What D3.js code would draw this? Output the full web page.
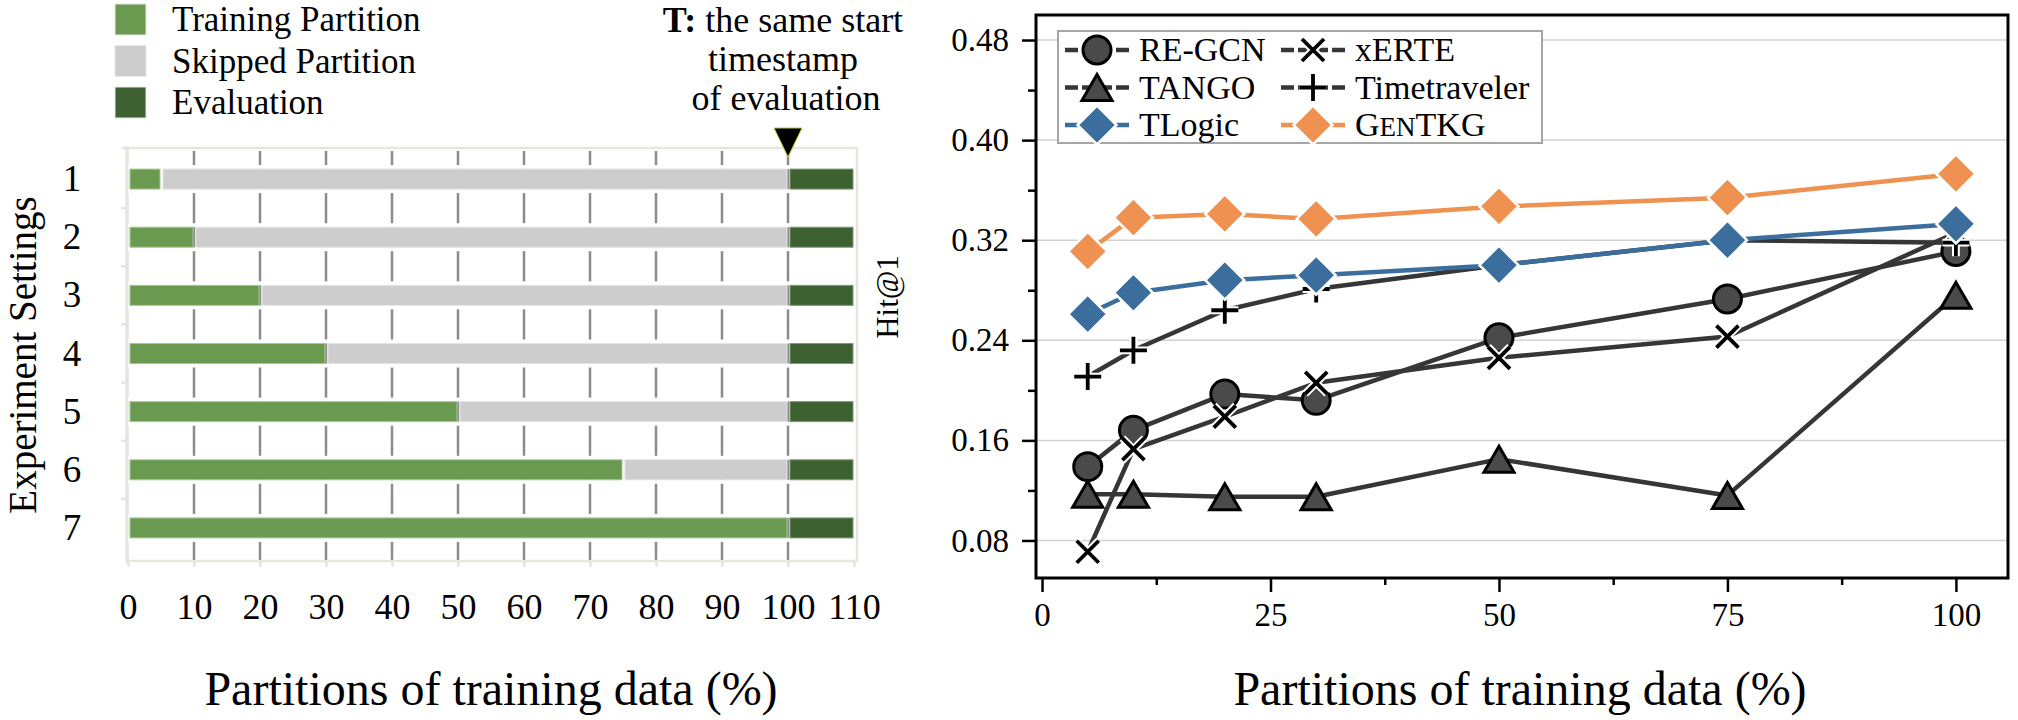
<!DOCTYPE html>
<html>
<head>
<meta charset="utf-8">
<script src="https://cdn.jsdelivr.net/npm/d3@7"></script>
<style>
  body { margin: 0; background: #fff; }
  svg, svg text { font-family: "Liberation Serif", "Times New Roman", serif; }
</style>
</head>
<body>
<div id="vis"></div>
<script>
// ── Left panel data: experiment settings ─────────────────────────────────────
var settings       = ['1', '2', '3', '4', '5', '6', '7'];
var trainEnd       = [5, 10, 20, 30, 50, 75, 100];   // % of training data used
var evalStart      = 100;
var evalEnd        = 110;
var partitionTicks = [0, 10, 20, 30, 40, 50, 60, 70, 80, 90, 100, 110];
var partLegend     = ['Training Partition', 'Skipped Partition', 'Evaluation'];

// ── Right panel data: Hit@1 vs partition size ────────────────────────────────
var partitions   = [5, 10, 20, 30, 50, 75, 100];
var reGcn        = [0.139, 0.168, 0.197, 0.192, 0.242, 0.273, 0.311];
var tango        = [0.117, 0.117, 0.115, 0.115, 0.145, 0.116, 0.276];
var xerte        = [0.071, 0.153, 0.179, 0.206, 0.226, 0.243, 0.326];
var timetraveler = [0.211, 0.232, 0.264, 0.281, 0.300, 0.320, 0.318];
var tlogic       = [0.261, 0.278, 0.288, 0.292, 0.300, 0.320, 0.333];
var genTkg       = [0.311, 0.338, 0.341, 0.337, 0.347, 0.354, 0.373];
var yTicks       = [0.08, 0.16, 0.24, 0.32, 0.40, 0.48];
var yMinorTicks  = [0.12, 0.20, 0.28, 0.36, 0.44];
var xTicks       = [0, 25, 50, 75, 100];
var xMinorTicks  = [12.5, 37.5, 62.5, 87.5];

var W = 2018, H = 720;
var green = '#6a9a4f', grey = '#cdcdcd', darkGreen = '#3d6131';
var pale = '#e6e6df', dark = '#363636';
var blue = '#3b6e9c', orange = '#ef9150';

var svg = d3.select('#vis').append('svg').attr('width', W).attr('height', H);

// marker shapes centred on 0,0
function markerPath(type, s) {
  if (type === 'circle')   return `M${s},0A${s},${s} 0 1,1 ${-s},0A${s},${s} 0 1,1 ${s},0Z`;
  if (type === 'triangle') return `M0,${-s}L${s * 1.16},${s}L${-s * 1.16},${s}Z`;
  if (type === 'diamond')  return `M0,${-s}L${s},0L0,${s}L${-s},0Z`;
  if (type === 'x')        return `M${-s},${-s}L${s},${s}M${-s},${s}L${s},${-s}`;
  return `M${-s},0L${s},0M0,${-s}L0,${s}`; // plus
}

// d3 axes put font-family="sans-serif" on their group; drop it so the serif face inherits
function clearAxisFont(g, fs) {
  g.attr('font-family', null).attr('font-size', null);
  g.selectAll('.tick text').attr('font-size', fs).attr('fill', '#000');
}

// ═════════════════════════ LEFT PANEL ═════════════════════════════════════
var xL = d3.scaleLinear().domain([0, 110]).range([128, 854]);
var yL = d3.scaleBand().domain(settings).range([150, 557]);
var left = svg.append('g');
var barH = 20;

// frame (light)
left.append('path')
  .attr('d', `M122,148H857V561H127V148`)
  .attr('fill', 'none').attr('stroke', pale).attr('stroke-width', 2.5);
left.append('line').attr('x1', 127).attr('x2', 127).attr('y1', 146).attr('y2', 563)
  .attr('stroke', pale).attr('stroke-width', 3.5);

// vertical grid
left.append('g').selectAll('line')
  .data(partitionTicks.filter(d => d > 0 && d < 110))
  .join('line')
  .attr('x1', d => xL(d)).attr('x2', d => xL(d))
  .attr('y1', 151).attr('y2', 560)
  .attr('stroke', '#8c8c8c').attr('stroke-width', 2.5);

// bars
var rows = settings.map((s, i) => {
  var segs = [{ s: 0, e: trainEnd[i], c: green, o: '#a9c99a' }];
  if (trainEnd[i] < evalStart) segs.push({ s: trainEnd[i], e: evalStart, c: grey, o: '#e4e4e4' });
  segs.push({ s: evalStart, e: evalEnd, c: darkGreen, o: '#7e9a74' });
  return { setting: s, segs: segs };
});

var rowG = left.append('g').selectAll('g').data(rows).join('g')
  .attr('transform', d => `translate(0,${yL(d.setting) + yL.bandwidth() / 2})`);

// white gaps above and below each bar cut the grid lines
rowG.append('rect').attr('x', xL(0)).attr('width', xL(evalEnd) - xL(0))
  .attr('y', -barH / 2 - 4).attr('height', 4).attr('fill', '#fff');
rowG.append('rect').attr('x', xL(0)).attr('width', xL(evalEnd) - xL(0))
  .attr('y', barH / 2).attr('height', 4).attr('fill', '#fff');

rowG.selectAll('rect.seg').data(d => d.segs).join('rect').attr('class', 'seg')
  .attr('x', d => xL(d.s) + 2)
  .attr('width', d => xL(d.e) - xL(d.s) - 3)
  .attr('y', -barH / 2).attr('height', barH)
  .attr('fill', d => d.c).attr('stroke', d => d.o).attr('stroke-width', 1);

// x axis
var xAxisL = left.append('g').attr('transform', 'translate(0,561)')
  .call(d3.axisBottom(xL).tickValues(partitionTicks).tickSize(6))
  .call(g => clearAxisFont(g, 36));
xAxisL.select('.domain').remove();
xAxisL.selectAll('.tick line').attr('stroke', pale).attr('stroke-width', 2.5);
xAxisL.selectAll('.tick text').attr('y', 58).attr('dy', null);

// y ticks between rows + row labels
left.append('g').selectAll('line').data(settings.slice(1)).join('line')
  .attr('x1', 121).attr('x2', 127)
  .attr('y1', d => yL(d)).attr('y2', d => yL(d))
  .attr('stroke', pale).attr('stroke-width', 2.5);
left.append('g').selectAll('text').data(settings).join('text')
  .attr('x', 72).attr('y', d => yL(d) + yL.bandwidth() / 2 + 12)
  .attr('text-anchor', 'middle').attr('font-size', 37).text(d => d);

left.append('text')
  .attr('transform', 'translate(36,355) rotate(-90)')
  .attr('text-anchor', 'middle').attr('font-size', 39)
  .text('Experiment Settings');

left.append('text').attr('x', 491).attr('y', 705)
  .attr('text-anchor', 'middle').attr('font-size', 48)
  .text('Partitions of training data (%)');

// legend
var legL = left.append('g').selectAll('g').data(partLegend).join('g')
  .attr('transform', (d, i) => `translate(115,${4 + i * 41.5})`);
legL.append('rect').attr('width', 31).attr('height', 31)
  .attr('fill', (d, i) => [green, grey, darkGreen][i])
  .attr('stroke', '#e8e8e8').attr('stroke-width', 1);
legL.append('text').attr('x', 57).attr('y', 27).attr('font-size', 35).text(d => d);

// annotation at T
var ann = left.append('text').attr('text-anchor', 'middle').attr('font-size', 36);
ann.append('tspan').attr('x', 783).attr('y', 32).attr('font-weight', 'bold').text('T:');
ann.append('tspan').text(' the same start');
ann.append('tspan').attr('x', 783).attr('y', 71).text('timestamp');
ann.append('tspan').attr('x', 786).attr('y', 110).text('of evaluation');

left.append('path')
  .attr('d', `M${xL(evalStart) - 14},128H${xL(evalStart) + 14}L${xL(evalStart)},157Z`)
  .attr('fill', '#000').attr('stroke', '#c8c832').attr('stroke-width', 1);

// ═════════════════════════ RIGHT PANEL ════════════════════════════════════
var xR = d3.scaleLinear().domain([-0.66, 105.7]).range([1036, 2008]);
var yR = d3.scaleLinear().domain([0.05, 0.50]).range([578, 15]);
var right = svg.append('g');

// horizontal grid
right.append('g').selectAll('line').data(yTicks).join('line')
  .attr('x1', 1036).attr('x2', 2008)
  .attr('y1', d => yR(d)).attr('y2', d => yR(d))
  .attr('stroke', '#d2d2d2').attr('stroke-width', 1.5);

function styleAxis(g, fs) {
  g.select('.domain').remove();
  g.selectAll('.tick line').attr('stroke', '#000').attr('stroke-width', 2.5);
  clearAxisFont(g, fs);
}

right.append('g').attr('transform', 'translate(1036,0)')
  .call(d3.axisLeft(yR).tickValues(yTicks).tickFormat(d3.format('.2f')).tickSize(14).tickPadding(13))
  .call(g => styleAxis(g, 33));
right.append('g').attr('transform', 'translate(1036,0)')
  .call(d3.axisLeft(yR).tickValues(yMinorTicks).tickFormat('').tickSize(8))
  .call(g => styleAxis(g, 33));
right.append('g').attr('transform', 'translate(0,578)')
  .call(d3.axisBottom(xR).tickValues(xTicks).tickSize(14).tickPadding(11))
  .call(g => styleAxis(g, 33));
right.append('g').attr('transform', 'translate(0,578)')
  .call(d3.axisBottom(xR).tickValues(xMinorTicks).tickFormat('').tickSize(7))
  .call(g => styleAxis(g, 33));

right.append('rect').attr('x', 1036).attr('y', 15).attr('width', 972).attr('height', 563)
  .attr('fill', 'none').attr('stroke', '#000').attr('stroke-width', 3);

right.append('text')
  .attr('transform', 'translate(898,297) rotate(-90)')
  .attr('text-anchor', 'middle').attr('font-size', 31).text('Hit@1');
right.append('text').attr('x', 1520).attr('y', 705)
  .attr('text-anchor', 'middle').attr('font-size', 48)
  .text('Partitions of training data (%)');

// series, in drawing order
var series = [
  { name: 'RE-GCN',       values: reGcn,        line: dark,   marker: 'circle',   size: 14,   fill: '#4a4a4a', edge: '#000', ew: 3 },
  { name: 'TANGO',        values: tango,        line: dark,   marker: 'triangle', size: 13,   fill: '#4a4a4a', edge: '#000', ew: 3 },
  { name: 'xERTE',        values: xerte,        line: dark,   marker: 'x',        size: 11,   fill: 'none',    edge: '#000', ew: 3.8, halo: true },
  { name: 'Timetraveler', values: timetraveler, line: dark,   marker: 'plus',     size: 13.5, fill: 'none',    edge: '#000', ew: 3.8, halo: true },
  { name: 'TLogic',       values: tlogic,       line: blue,   marker: 'diamond',  size: 19.5, fill: blue,      edge: '#fff', ew: 2.5 },
  { name: 'GenTKG',       values: genTkg,       line: orange, marker: 'diamond',  size: 19.5, fill: orange,    edge: '#fff', ew: 2.5 }
];

var line = d3.line().x(d => xR(d.x)).y(d => yR(d.y));

function drawMarker(g, s) {
  if (s.halo) {
    g.append('path').attr('d', markerPath(s.marker, s.size))
      .attr('fill', 'none').attr('stroke', '#fff').attr('stroke-width', s.ew + 4);
  }
  g.append('path').attr('d', markerPath(s.marker, s.size))
    .attr('fill', s.fill).attr('stroke', s.edge).attr('stroke-width', s.ew)
    .attr('stroke-linejoin', 'miter');
}

series.forEach(s => {
  var pts = partitions.map((p, i) => ({ x: p, y: s.values[i] }));
  var g = right.append('g');
  g.append('path').datum(pts).attr('d', line)
    .attr('fill', 'none').attr('stroke', s.line).attr('stroke-width', 4.5)
    .attr('stroke-linejoin', 'round');
  g.selectAll('g.m').data(pts).join('g').attr('class', 'm')
    .attr('transform', d => `translate(${xR(d.x)},${yR(d.y)})`)
    .each(function () { drawMarker(d3.select(this), s); });
});

// legend (two columns)
var legendOrder = ['RE-GCN', 'TANGO', 'TLogic', 'xERTE', 'Timetraveler', 'GenTKG'];
var legR = right.append('g');
legR.append('rect').attr('x', 1058).attr('y', 31).attr('width', 484).attr('height', 112)
  .attr('fill', '#fff').attr('stroke', '#a6a6a6').attr('stroke-width', 2);

legendOrder.forEach((name, i) => {
  var s = series.find(d => d.name === name);
  var col = Math.floor(i / 3), row = i % 3;
  var cx = col === 0 ? 1097 : 1313;
  var cy = 50 + row * 37.5;
  var g = legR.append('g').attr('transform', `translate(${cx},${cy})`);
  g.append('line').attr('x1', -32).attr('x2', 32)
    .attr('stroke', s.line).attr('stroke-width', 4.5).attr('stroke-dasharray', '13,4');
  drawMarker(g, s);
  var t = g.append('text').attr('x', 42).attr('y', 11).attr('font-size', 34);
  if (name === 'GenTKG') {
    t.append('tspan').text('G');
    t.append('tspan').attr('font-size', 27).text('EN');
    t.append('tspan').text('TKG');
  } else {
    t.text(name);
  }
});
</script>
</body>
</html>
